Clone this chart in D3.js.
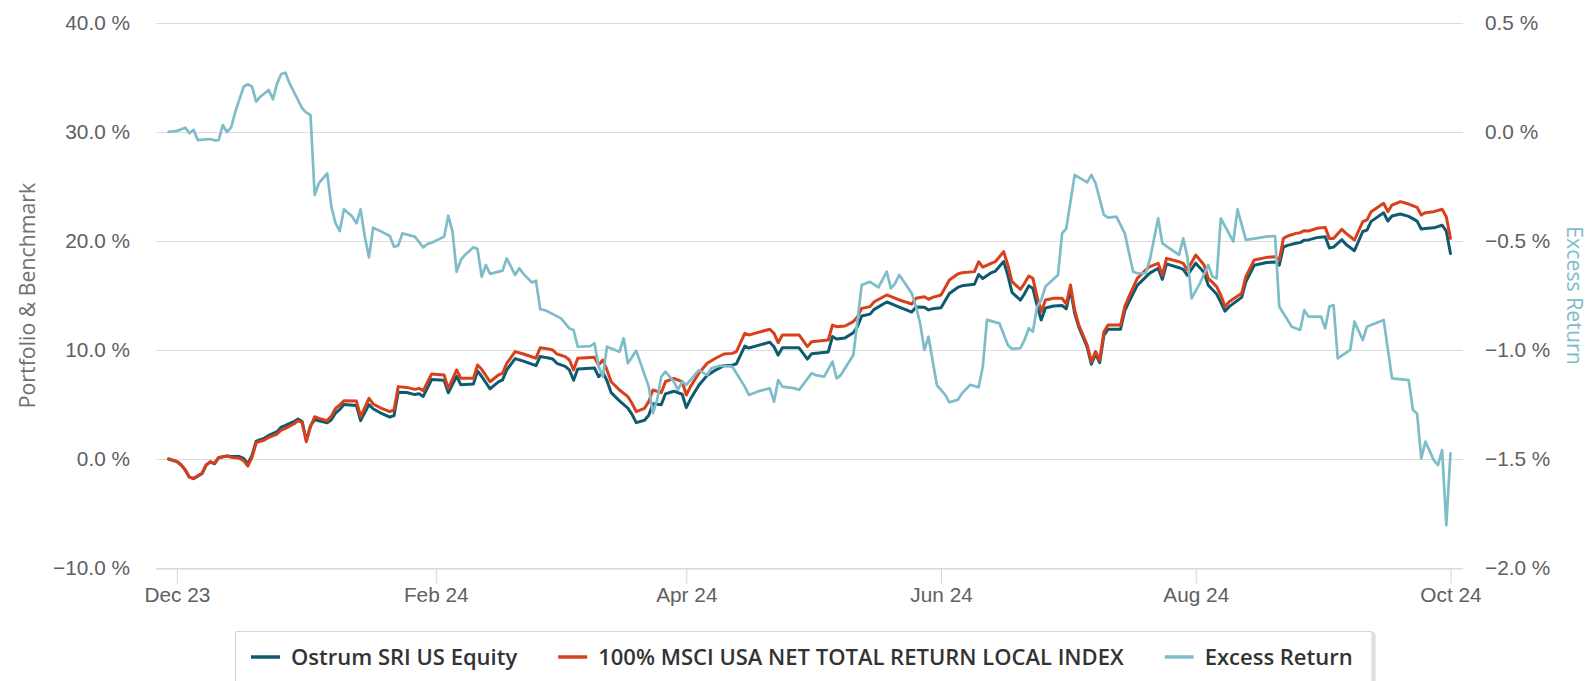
<!DOCTYPE html>
<html><head><meta charset="utf-8">
<script src="https://cdn.jsdelivr.net/npm/d3@7"></script>
<style>body{margin:0;background:#fff}svg{display:block}</style>
</head><body><svg id="chart" width="1593" height="681"></svg>
<script>
// ---------- DATA ----------
const seriesNames = ["Ostrum SRI US Equity", "100% MSCI USA NET TOTAL RETURN LOCAL INDEX", "Excess Return"];
const seriesColors = ["#0e5b6f", "#d8401b", "#7dbcc8"];

const seriesDates = ["2023-11-29","2023-12-01","2023-12-02","2023-12-03","2023-12-04","2023-12-05","2023-12-07","2023-12-08","2023-12-09","2023-12-10","2023-12-11","2023-12-13","2023-12-14","2023-12-16","2023-12-17","2023-12-18","2023-12-19","2023-12-20","2023-12-22","2023-12-23","2023-12-25","2023-12-26","2023-12-27","2023-12-29","2023-12-30","2023-12-31",
"2024-01-01","2024-01-02","2024-01-03","2024-01-04","2024-01-06","2024-01-07","2024-01-08","2024-01-09","2024-01-10","2024-01-13","2024-01-14","2024-01-16","2024-01-17","2024-01-19","2024-01-21","2024-01-22","2024-01-23","2024-01-25","2024-01-27","2024-01-28","2024-01-29","2024-01-31",
"2024-02-03","2024-02-04","2024-02-06","2024-02-07","2024-02-10","2024-02-11","2024-02-12","2024-02-14","2024-02-16","2024-02-17","2024-02-18","2024-02-20","2024-02-22","2024-02-25","2024-02-26","2024-02-28","2024-02-29",
"2024-03-01","2024-03-03","2024-03-04","2024-03-05","2024-03-06","2024-03-10","2024-03-11","2024-03-12","2024-03-13","2024-03-14","2024-03-16","2024-03-18","2024-03-19","2024-03-20","2024-03-22","2024-03-23","2024-03-24","2024-03-26","2024-03-27","2024-03-29","2024-03-31",
"2024-04-01","2024-04-02","2024-04-04","2024-04-06","2024-04-08","2024-04-10","2024-04-12","2024-04-13","2024-04-15","2024-04-16","2024-04-18","2024-04-21","2024-04-22","2024-04-23","2024-04-24","2024-04-28","2024-04-30",
"2024-05-01","2024-05-05","2024-05-06","2024-05-07","2024-05-09","2024-05-11","2024-05-12","2024-05-13","2024-05-15","2024-05-16","2024-05-19","2024-05-22","2024-05-25","2024-05-26","2024-05-28","2024-05-29","2024-05-30",
"2024-06-01","2024-06-03","2024-06-05","2024-06-06","2024-06-09","2024-06-10","2024-06-11","2024-06-13","2024-06-14","2024-06-16","2024-06-17","2024-06-18","2024-06-20","2024-06-21","2024-06-22","2024-06-23","2024-06-24","2024-06-25","2024-06-26","2024-06-28","2024-06-30",
"2024-07-01","2024-07-02","2024-07-03","2024-07-04","2024-07-06","2024-07-07","2024-07-08","2024-07-09","2024-07-10","2024-07-11","2024-07-14","2024-07-15","2024-07-16","2024-07-18","2024-07-20","2024-07-21","2024-07-23","2024-07-24","2024-07-25","2024-07-28","2024-07-29","2024-07-30",
"2024-08-01","2024-08-03","2024-08-04","2024-08-06","2024-08-07","2024-08-08","2024-08-09","2024-08-12","2024-08-13","2024-08-15","2024-08-18","2024-08-20","2024-08-21","2024-08-22","2024-08-23","2024-08-25","2024-08-26","2024-08-27","2024-08-28","2024-08-30",
"2024-09-01","2024-09-02","2024-09-03","2024-09-05","2024-09-06","2024-09-08","2024-09-10","2024-09-11","2024-09-12","2024-09-15","2024-09-16","2024-09-17","2024-09-19","2024-09-21","2024-09-23","2024-09-24","2024-09-25","2024-09-27","2024-09-29","2024-09-30","2024-10-01"];

const benchmarkValues = [0.00,-0.24,-0.55,-1.00,-1.68,-1.77,-1.31,-0.55,-0.24,-0.40,0.15,0.28,0.15,0.06,-0.15,-0.64,0.15,1.50,1.74,1.99,2.29,2.66,2.81,3.21,3.52,3.33,
1.59,2.97,3.88,3.73,3.52,3.94,4.65,4.95,5.35,5.32,3.88,5.57,5.05,4.65,4.34,4.50,6.64,6.57,6.39,6.48,6.27,7.80,
7.71,6.48,8.17,7.40,7.40,8.62,8.23,7.09,7.71,7.86,8.78,9.85,9.63,9.24,10.21,10.09,10.00,
9.63,9.39,9.08,8.17,9.24,9.33,8.62,9.08,8.17,7.09,6.33,5.72,5.11,4.34,4.65,5.26,6.33,6.09,7.09,7.40,7.09,
5.87,6.64,7.86,8.78,9.24,9.63,9.69,9.85,11.53,11.38,11.59,11.90,11.53,10.67,11.38,11.38,10.31,
10.76,10.92,12.29,12.14,12.20,12.60,13.06,13.82,13.98,14.43,15.05,14.59,14.22,14.74,14.89,14.65,14.83,
15.05,16.42,16.97,17.09,17.19,18.10,17.60,17.95,18.10,19.02,17.80,16.27,15.57,16.12,16.79,16.57,14.89,13.52,14.59,14.74,14.74,
14.22,15.96,13.67,12.29,10.46,8.93,9.85,9.08,11.68,12.29,12.29,13.98,14.89,16.57,17.34,17.65,17.95,16.88,18.41,18.10,17.95,17.34,
18.72,17.80,16.57,15.81,15.05,13.98,14.43,15.20,16.73,18.26,18.50,18.56,18.26,20.24,20.46,20.70,20.76,20.95,20.92,21.16,
21.25,20.24,20.24,21.07,20.70,20.09,21.77,21.93,22.69,23.46,22.69,23.30,23.61,23.39,23.09,22.39,22.60,22.69,22.91,22.23,20.24];

const portfolioValues = [0.00,-0.23,-0.53,-1.01,-1.67,-1.80,-1.35,-0.58,-0.27,-0.44,0.11,0.28,0.22,0.22,0.06,-0.42,0.36,1.64,1.92,2.16,2.51,2.93,3.08,3.42,3.66,3.44,
1.68,3.05,3.59,3.50,3.33,3.60,4.22,4.55,4.99,4.90,3.52,5.00,4.61,4.18,3.85,3.98,6.12,6.10,5.91,5.98,5.74,7.29,
7.23,6.08,7.58,6.81,6.87,8.08,7.57,6.44,7.07,7.26,8.18,9.21,8.98,8.56,9.40,9.27,9.18,
8.78,8.50,8.17,7.22,8.26,8.35,7.55,7.96,7.18,6.09,5.33,4.67,4.09,3.34,3.55,4.01,5.07,4.97,5.98,6.22,5.94,
4.71,5.50,6.76,7.67,8.16,8.56,8.61,8.74,10.36,10.18,10.40,10.72,10.30,9.53,10.21,10.20,9.17,
9.65,9.82,11.23,11.01,11.11,11.58,12.16,13.12,13.29,13.73,14.41,13.93,13.48,13.94,13.93,13.68,13.78,
13.88,15.18,15.74,15.89,16.03,16.93,16.55,17.08,17.23,18.12,16.84,15.28,14.58,15.16,15.88,15.66,14.09,12.75,13.86,14.04,14.08,
13.77,15.56,13.37,12.09,10.25,8.70,9.65,8.84,11.34,11.91,11.90,13.58,14.42,15.93,16.69,17.05,17.50,16.48,17.90,17.55,17.39,16.85,
17.97,17.11,15.94,15.14,14.38,13.56,13.98,14.83,16.25,17.77,18.02,18.08,17.78,19.45,19.60,19.80,19.85,20.08,20.10,20.31,
20.40,19.36,19.44,20.12,19.68,19.11,20.87,21.00,21.80,22.59,21.83,22.30,22.48,22.26,21.82,21.10,21.15,21.21,21.45,20.90,18.85];

const excessDates = ["2023-11-29","2023-12-01","2023-12-03","2023-12-04","2023-12-05","2023-12-06","2023-12-09","2023-12-10","2023-12-11","2023-12-12","2023-12-13","2023-12-14","2023-12-15","2023-12-17","2023-12-18","2023-12-19","2023-12-20","2023-12-21","2023-12-23","2023-12-24","2023-12-25","2023-12-26","2023-12-27","2023-12-28","2023-12-31",
"2024-01-01","2024-01-02","2024-01-03","2024-01-04","2024-01-06","2024-01-07","2024-01-08","2024-01-09","2024-01-10","2024-01-12","2024-01-13","2024-01-14","2024-01-15","2024-01-16","2024-01-17","2024-01-19","2024-01-21","2024-01-22","2024-01-23","2024-01-24","2024-01-27","2024-01-29","2024-01-30","2024-01-31",
"2024-02-03","2024-02-04","2024-02-05","2024-02-06","2024-02-07","2024-02-08","2024-02-10","2024-02-11","2024-02-12","2024-02-13","2024-02-14","2024-02-17","2024-02-18","2024-02-19","2024-02-20","2024-02-21","2024-02-22","2024-02-24","2024-02-25","2024-02-26","2024-02-27","2024-02-28",
"2024-03-02","2024-03-04","2024-03-05","2024-03-06","2024-03-09","2024-03-10","2024-03-11","2024-03-12","2024-03-13","2024-03-16","2024-03-17","2024-03-18","2024-03-20","2024-03-23","2024-03-24","2024-03-25","2024-03-26","2024-03-27","2024-03-29","2024-03-30","2024-03-31",
"2024-04-01","2024-04-02","2024-04-04","2024-04-06","2024-04-07","2024-04-09","2024-04-12","2024-04-13","2024-04-15","2024-04-16","2024-04-18","2024-04-21","2024-04-22","2024-04-23","2024-04-24","2024-04-27","2024-04-28",
"2024-05-01","2024-05-02","2024-05-04","2024-05-06","2024-05-07","2024-05-08","2024-05-11","2024-05-13","2024-05-15","2024-05-17","2024-05-19","2024-05-20","2024-05-21","2024-05-22","2024-05-25","2024-05-26","2024-05-27","2024-05-28","2024-05-29","2024-05-31",
"2024-06-02","2024-06-03","2024-06-05","2024-06-06","2024-06-08","2024-06-10","2024-06-11","2024-06-12","2024-06-15","2024-06-17","2024-06-18","2024-06-20","2024-06-21","2024-06-22","2024-06-23","2024-06-24","2024-06-25","2024-06-26","2024-06-29","2024-06-30",
"2024-07-01","2024-07-03","2024-07-06","2024-07-07","2024-07-08","2024-07-10","2024-07-11","2024-07-13","2024-07-15","2024-07-17","2024-07-18","2024-07-20","2024-07-21","2024-07-23","2024-07-24","2024-07-28","2024-07-29","2024-07-30","2024-07-31",
"2024-08-02","2024-08-04","2024-08-05","2024-08-06","2024-08-07","2024-08-10","2024-08-11","2024-08-13","2024-08-18","2024-08-20","2024-08-21","2024-08-24","2024-08-26","2024-08-27","2024-08-28","2024-08-31",
"2024-09-01","2024-09-02","2024-09-03","2024-09-04","2024-09-07","2024-09-08","2024-09-10","2024-09-11","2024-09-15","2024-09-17","2024-09-21","2024-09-22","2024-09-23","2024-09-24","2024-09-25","2024-09-27","2024-09-28","2024-09-29","2024-09-30","2024-10-01"];

const excessValues = [0.000,0.005,0.020,-0.006,0.010,-0.037,-0.032,-0.038,-0.037,0.032,0.000,0.021,0.093,0.208,0.219,0.208,0.139,0.162,0.193,0.150,0.223,0.266,0.272,0.223,0.109,
0.089,0.078,-0.289,-0.235,-0.190,-0.343,-0.419,-0.454,-0.355,-0.388,-0.419,-0.355,-0.480,-0.575,-0.439,-0.457,-0.477,-0.526,-0.521,-0.465,-0.480,-0.529,-0.514,-0.508,
-0.480,-0.384,-0.457,-0.641,-0.587,-0.564,-0.529,-0.537,-0.664,-0.610,-0.651,-0.636,-0.580,-0.618,-0.656,-0.625,-0.651,-0.690,-0.682,-0.813,-0.817,-0.825,
-0.855,-0.901,-0.908,-0.985,-0.982,-0.969,-1.076,-1.122,-0.985,-1.008,-0.946,-1.061,-1.003,-1.168,-1.290,-1.229,-1.122,-1.099,-1.145,-1.183,-1.145,
-1.160,-1.137,-1.092,-1.115,-1.084,-1.072,-1.076,-1.107,-1.168,-1.206,-1.191,-1.176,-1.237,-1.138,-1.168,-1.176,-1.183,
-1.107,-1.115,-1.122,-1.053,-1.130,-1.115,-1.023,-0.702,-0.687,-0.713,-0.641,-0.717,-0.694,-0.656,-0.740,-0.801,-0.878,-1.000,-0.939,-1.161,
-1.206,-1.240,-1.229,-1.199,-1.160,-1.171,-1.076,-0.862,-0.878,-0.977,-0.995,-0.992,-0.954,-0.900,-0.916,-0.801,-0.771,-0.709,-0.656,-0.465,
-0.442,-0.197,-0.231,-0.197,-0.235,-0.380,-0.393,-0.388,-0.465,-0.641,-0.648,-0.648,-0.587,-0.396,-0.511,-0.564,-0.488,-0.572,-0.763,
-0.694,-0.610,-0.664,-0.671,-0.396,-0.503,-0.355,-0.495,-0.480,-0.477,-0.801,-0.893,-0.908,-0.817,-0.847,-0.847,
-0.901,-0.801,-0.794,-1.038,-0.999,-0.870,-0.954,-0.893,-0.862,-1.130,-1.138,-1.275,-1.291,-1.497,-1.420,-1.505,-1.528,-1.459,-1.803,-1.474];

const leftTickValues = [-10, 0, 10, 20, 30, 40];
const rightTickValues = [-2.0, -1.5, -1.0, -0.5, 0.0, 0.5];
const xTickDates = ["2023-12-01","2024-02-01","2024-04-01","2024-06-01","2024-08-01","2024-10-01"];
const xDomainDates = ["2023-11-26","2024-10-04"];
const leftTitle = "Portfolio & Benchmark";
const rightTitle = "Excess Return";

// ---------- CHART ----------
const parse = d3.utcParse("%Y-%m-%d");
const FONT = "'Open Sans', 'DejaVu Sans', sans-serif";
const plot = {left: 156, right: 1463, top: 23, bottom: 568};
const svg = d3.select("#chart").style("font-family", FONT);

const x = d3.scaleUtc().domain(xDomainDates.map(parse)).range([plot.left, plot.right]);
const yL = d3.scaleLinear().domain([-10, 40]).range([plot.bottom, plot.top]);
const yR = d3.scaleLinear().domain([-2, 0.5]).range([plot.bottom, plot.top]);
const pct = d => d3.format(".1f")(d) + " %";
const TICK_FS = "20.8px";

// gridlines
svg.append("g").selectAll("line").data(leftTickValues).join("line")
  .attr("x1", plot.left).attr("x2", plot.right)
  .attr("y1", d => Math.round(yL(d)) + 0.5).attr("y2", d => Math.round(yL(d)) + 0.5)
  .attr("stroke", "#dcdcdc").attr("stroke-width", 1);

// left axis
const gL = svg.append("g").attr("transform", `translate(${plot.left},0)`)
  .call(d3.axisLeft(yL).tickValues(leftTickValues).tickFormat(pct).tickSize(0).tickPadding(26));
gL.select(".domain").remove();
gL.selectAll("text").attr("fill", "#606060").style("font-size", TICK_FS).attr("dy", "0.3em");

// right axis
const gR = svg.append("g").attr("transform", `translate(${plot.right},0)`)
  .call(d3.axisRight(yR).tickValues(rightTickValues).tickFormat(pct).tickSize(0).tickPadding(22));
gR.select(".domain").remove();
gR.selectAll("text").attr("fill", "#606060").style("font-size", TICK_FS).attr("dy", "0.3em");

// bottom axis
const gX = svg.append("g").attr("transform", `translate(0,${plot.bottom + 0.5})`)
  .call(d3.axisBottom(x).tickValues(xTickDates.map(parse)).tickFormat(d3.utcFormat("%b %y")).tickSize(15).tickSizeOuter(0).tickPadding(4));
gX.select(".domain").attr("stroke", "#ccd6eb");
gX.selectAll(".tick line").attr("stroke", "#ccd6eb");
gX.selectAll("text").attr("fill", "#606060").style("font-size", TICK_FS);

// axis titles
svg.append("text").attr("transform", `translate(28,${(plot.top + plot.bottom) / 2}) rotate(-90)`)
  .attr("text-anchor", "middle").attr("dy", "0.35em").attr("fill", "#707070")
  .style("font-size", "21.3px").text(leftTitle);
svg.append("text").attr("transform", `translate(1574,${(plot.top + plot.bottom) / 2}) rotate(90)`)
  .attr("text-anchor", "middle").attr("dy", "0.35em").attr("fill", seriesColors[2])
  .style("font-size", "21.3px").text(rightTitle);

// series
const mainData = seriesDates.map((d, i) => ({date: parse(d), p: portfolioValues[i], b: benchmarkValues[i]}));
const excessData = excessDates.map((d, i) => ({date: parse(d), v: excessValues[i]}));
const lineStyle = (sel, color, w) => sel.attr("fill", "none").attr("stroke", color).attr("stroke-width", w)
  .attr("stroke-linejoin", "round").attr("stroke-linecap", "round");

svg.append("path").datum(mainData)
  .attr("d", d3.line().x(d => x(d.date)).y(d => yL(d.p)))
  .call(lineStyle, seriesColors[0], 3);
svg.append("path").datum(mainData)
  .attr("d", d3.line().x(d => x(d.date)).y(d => yL(d.b)))
  .call(lineStyle, seriesColors[1], 3);
svg.append("path").datum(excessData)
  .attr("d", d3.line().x(d => x(d.date)).y(d => yR(d.v)))
  .call(lineStyle, seriesColors[2], 2.7);

// legend
const legend = svg.append("g");
const shadow = legend.append("rect");
const box = legend.append("rect");
const items = legend.append("g");
let cx = 0;
const symW = 29, symGap = 11, itemGap = 41;
seriesNames.forEach((name, i) => {
  const g = items.append("g").attr("transform", `translate(${cx},0)`);
  g.append("line").attr("x1", 0).attr("x2", symW).attr("y1", 0).attr("y2", 0)
    .attr("stroke", seriesColors[i]).attr("stroke-width", 3.5);
  const t = g.append("text").attr("x", symW + symGap).attr("y", 8).attr("fill", "#333333")
    .style("font-size", "22px").style("font-weight", "600").text(name);
  cx += symW + symGap + t.node().getComputedTextLength() + (i < seriesNames.length - 1 ? itemGap : 0);
});
const padL = 16, padR = 19;
const boxW = cx + padL + padR;
const boxX = Math.round(803.5 - boxW / 2);
items.attr("transform", `translate(${boxX + padL},657)`);
box.attr("x", boxX + 0.5).attr("y", 631.5).attr("width", boxW).attr("height", 70)
  .attr("rx", 2).attr("fill", "#ffffff").attr("stroke", "#d5d5d5").attr("stroke-width", 1.2);
shadow.attr("x", boxX + 2.5).attr("y", 633.5).attr("width", boxW).attr("height", 70)
  .attr("rx", 2).attr("fill", "none").attr("stroke", "rgba(0,0,0,0.12)").attr("stroke-width", 3);
</script></body></html>
